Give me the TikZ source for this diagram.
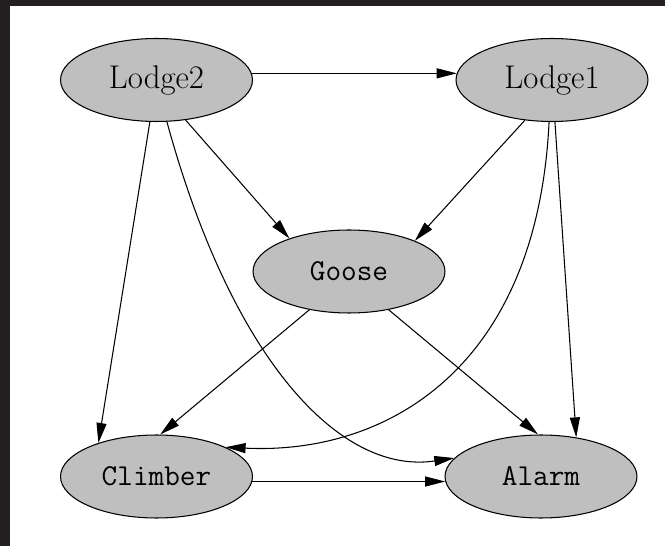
\documentclass[tikz,border=0pt]{standalone}
\usepackage{tikz}
\usepackage{xcolor}
\usetikzlibrary{shapes.geometric,arrows.meta}

\definecolor{framedark}{HTML}{231F20}

\begin{document}
\begin{tikzpicture}[x=0.02cm, y=-0.02cm,
		var/.style={ellipse, draw, fill=black!25, line width=0.6pt, minimum width=3.84cm, minimum height=1.66cm, inner sep=0pt, font=\fontsize{17.3}{20}\selectfont\ttfamily},
		lodge/.style={var, font=\fontsize{18.7}{22}\selectfont\rmfamily},
		>={Triangle[length=0.4cm, width=0.2cm]}, line width=0.6pt]
		\useasboundingbox (0,0) rectangle (665,546);
		\fill[white] (0,0) rectangle (665,546);
		\fill[framedark] (0,0) rectangle (665,6);
		\fill[framedark] (0,0) rectangle (10,546);

		\node[lodge] (lodge2) at (156.5, 80) {Lodge2};
		\node[lodge] (lodge1) at (552, 80) {Lodge1};
		\node[var] (goose) at (349, 271.5) {Goose};
		\node[var] (climber) at (156.5, 476.5) {Climber};
		\node[var] (alarm) at (541, 476.5) {Alarm};

		\draw[->] (lodge2.4) -- (lodge1.176);
		\draw[->] (lodge2.-54) -- (goose.151);
		\draw[->] (lodge2.-99) -- (climber.150);
		\draw[->] (lodge2.-76) .. controls (232,360) and (340,475) .. (alarm.168);
		\draw[->] (lodge1.-124) -- (goose.25);
		\draw[->] (lodge1.-94) .. controls (537,370) and (385,455) .. (climber.23);
		\draw[->] (lodge1.-86) -- (alarm.48);
		\draw[->] (goose.-136) -- (climber.85);
		\draw[->] (goose.-44) -- (alarm.94);
		\draw[->] (climber.-3) -- (alarm.183);
	\end{tikzpicture}
\end{document}
